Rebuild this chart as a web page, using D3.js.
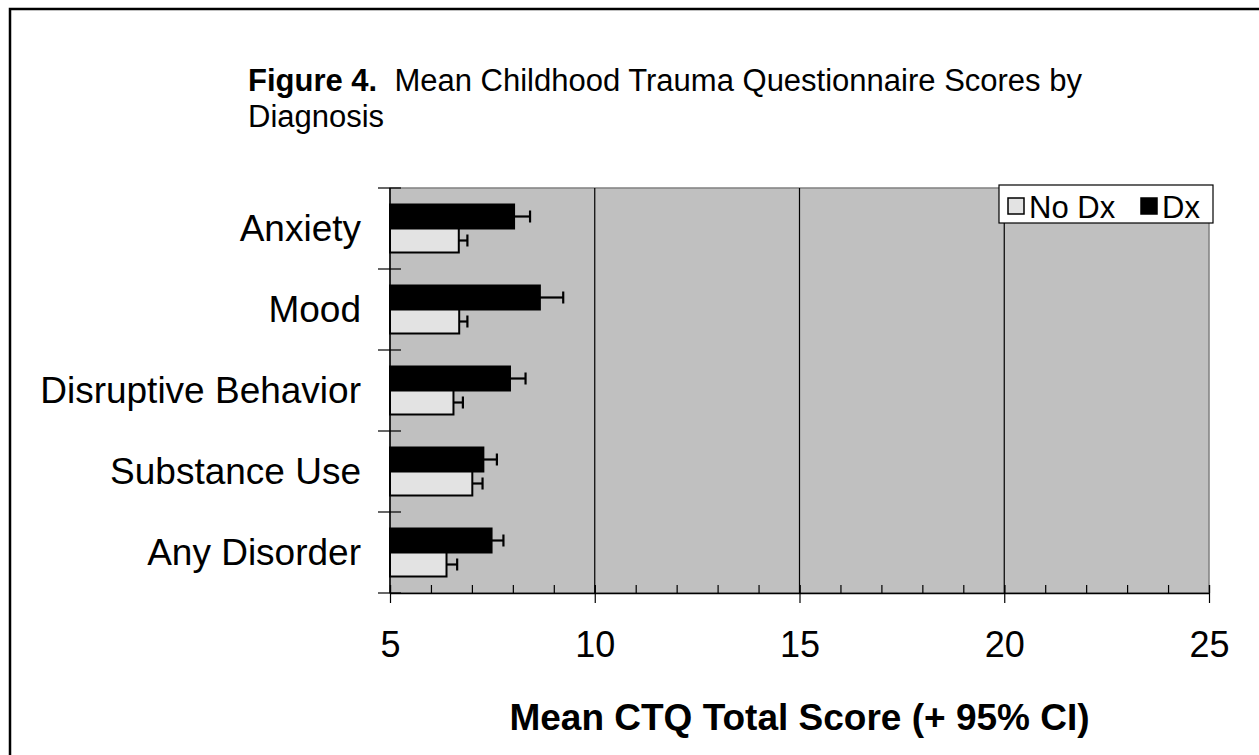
<!DOCTYPE html>
<html>
<head>
<meta charset="utf-8">
<script src="https://cdn.jsdelivr.net/npm/d3@7"></script>
<style>
  html, body { margin: 0; padding: 0; background: #fff; }
  svg { display: block; font-family: Arial, "Liberation Sans", Helvetica, sans-serif; }
</style>
</head>
<body>
<svg id="chart" width="1259" height="755"></svg>
<script>
// Diagnostic categories, top to bottom
const categories = ["Anxiety", "Mood", "Disruptive Behavior", "Substance Use", "Any Disorder"];
const seriesNames = ["Dx", "No Dx"];

// Mean CTQ total score per category
const noDxMean = [6.68, 6.69, 6.55, 7.01, 6.38];
const dxMean   = [8.03, 8.66, 7.93, 7.28, 7.48];

// Upper bound of the 95% confidence interval
const noDxUpper = [6.89, 6.89, 6.78, 7.26, 6.64];
const dxUpper   = [8.42, 9.23, 8.31, 7.61, 7.77];

const xTicks = [5, 10, 15, 20, 25];

const svg = d3.select("#chart");

// outer figure frame
svg.append("rect")
  .attr("x", 10).attr("y", 9)
  .attr("width", 1270).attr("height", 770)
  .attr("fill", "none").attr("stroke", "#000").attr("stroke-width", 2.5);

// title
const title = svg.append("text").attr("font-size", 31).attr("fill", "#000");
title.append("tspan").attr("x", 248).attr("y", 91).attr("font-weight", "bold").text("Figure 4.");
title.append("tspan").attr("xml:space", "preserve").text("  Mean Childhood Trauma Questionnaire Scores by");
svg.append("text").attr("font-size", 31).attr("x", 248).attr("y", 127).text("Diagnosis");

const plot = { left: 390, right: 1209, top: 188, bottom: 593 };

const x = d3.scaleLinear().domain([5, 25]).range([plot.left, plot.right]);
const y0 = d3.scaleBand().domain(categories).range([plot.top, plot.bottom]).padding(0);
const y1 = d3.scaleBand().domain(seriesNames).range([16.5, y0.bandwidth() - 16.5]).padding(0);

// plot background
svg.append("rect")
  .attr("x", plot.left).attr("y", plot.top)
  .attr("width", plot.right - plot.left).attr("height", plot.bottom - plot.top)
  .attr("fill", "#c0c0c0").attr("stroke", "#808080").attr("stroke-width", 1.5);

// vertical gridlines
svg.append("g").selectAll("line")
  .data(xTicks.slice(1, -1))
  .join("line")
  .attr("x1", d => x(d)).attr("x2", d => x(d))
  .attr("y1", plot.top).attr("y2", plot.bottom)
  .attr("stroke", "#000").attr("stroke-width", 1.2);

// x axis: minor ticks inside, major ticks crossing
const gx = svg.append("g").attr("transform", `translate(0,${plot.bottom})`);
gx.call(d3.axisBottom(x).tickValues(d3.range(5, 26, 1)).tickSizeInner(-8).tickSizeOuter(0).tickFormat(""));
gx.select(".domain").attr("stroke", "#000").attr("stroke-width", 1.5);
gx.selectAll(".tick line").attr("stroke", "#000").attr("stroke-width", 1.2);
const gxMajor = svg.append("g").attr("transform", `translate(0,${plot.bottom})`);
gxMajor.call(d3.axisBottom(x).tickValues(xTicks).tickSizeInner(10).tickSizeOuter(0).tickPadding(40));
gxMajor.select(".domain").remove();
gxMajor.selectAll(".tick line").attr("y1", -8).attr("stroke", "#000").attr("stroke-width", 1.2);
gxMajor.selectAll(".tick text")
  .attr("font-size", 36).attr("font-family", "Arial, 'Liberation Sans', sans-serif")
  .attr("fill", "#000").attr("dy", null).attr("y", 64);

// y axis: category boundary ticks crossing the axis
const gy = svg.append("g").attr("transform", `translate(${plot.left},0)`);
gy.append("line")
  .attr("x1", 0).attr("x2", 0).attr("y1", plot.top).attr("y2", plot.bottom)
  .attr("stroke", "#000").attr("stroke-width", 1.5);
const boundaries = categories.map(c => y0(c)).concat([plot.bottom]);
gy.selectAll("line.bnd")
  .data(boundaries)
  .join("line").attr("class", "bnd")
  .attr("x1", -12).attr("x2", 11)
  .attr("y1", d => d).attr("y2", d => d)
  .attr("stroke", "#000").attr("stroke-width", 1.2);
gy.selectAll("text.cat")
  .data(categories)
  .join("text").attr("class", "cat")
  .attr("x", -29)
  .attr("y", d => y0(d) + y0.bandwidth() / 2)
  .attr("dy", "0.35em")
  .attr("text-anchor", "end")
  .attr("font-size", 37)
  .attr("fill", "#000")
  .text(d => d);

// bars + error bars
const rows = categories.flatMap((c, i) => [
  { cat: c, s: "Dx", mean: dxMean[i], upper: dxUpper[i] },
  { cat: c, s: "No Dx", mean: noDxMean[i], upper: noDxUpper[i] }
]);
const fills = { "Dx": "#000000", "No Dx": "#e3e3e3" };

const barG = svg.append("g");
barG.selectAll("rect")
  .data(rows)
  .join("rect")
  .attr("x", x(5))
  .attr("y", d => y0(d.cat) + y1(d.s))
  .attr("width", d => x(d.mean) - x(5))
  .attr("height", y1.bandwidth())
  .attr("fill", d => fills[d.s])
  .attr("stroke", "#000").attr("stroke-width", 2);

const errG = svg.append("g").attr("stroke", "#000").attr("stroke-width", 2.2);
errG.selectAll("line.stem")
  .data(rows)
  .join("line").attr("class", "stem")
  .attr("x1", d => x(d.mean)).attr("x2", d => x(d.upper))
  .attr("y1", d => y0(d.cat) + y1(d.s) + y1.bandwidth() / 2)
  .attr("y2", d => y0(d.cat) + y1(d.s) + y1.bandwidth() / 2);
errG.selectAll("line.cap")
  .data(rows)
  .join("line").attr("class", "cap")
  .attr("x1", d => x(d.upper)).attr("x2", d => x(d.upper))
  .attr("y1", d => y0(d.cat) + y1(d.s) + y1.bandwidth() / 2 - 6)
  .attr("y2", d => y0(d.cat) + y1(d.s) + y1.bandwidth() / 2 + 6);

// x axis title
svg.append("text")
  .attr("x", (plot.left + plot.right) / 2).attr("y", 730)
  .attr("text-anchor", "middle")
  .attr("font-size", 37).attr("font-weight", "bold")
  .text("Mean CTQ Total Score (+ 95% CI)");

// legend
const lg = svg.append("g");
lg.append("rect")
  .attr("x", 999).attr("y", 185).attr("width", 214).attr("height", 38)
  .attr("fill", "#fff").attr("stroke", "#000").attr("stroke-width", 1.2);
const legendItems = [
  { s: "No Dx", sx: 1008, tx: 1029 },
  { s: "Dx", sx: 1141, tx: 1162 }
];
lg.selectAll("rect.key")
  .data(legendItems)
  .join("rect").attr("class", "key")
  .attr("x", d => d.sx).attr("y", 198).attr("width", 16).attr("height", 16)
  .attr("fill", d => fills[d.s]).attr("stroke", "#000").attr("stroke-width", 1.5);
lg.selectAll("text.key")
  .data(legendItems)
  .join("text").attr("class", "key")
  .attr("x", d => d.tx).attr("y", 218)
  .attr("font-size", 31)
  .text(d => d.s);
</script>
</body>
</html>
